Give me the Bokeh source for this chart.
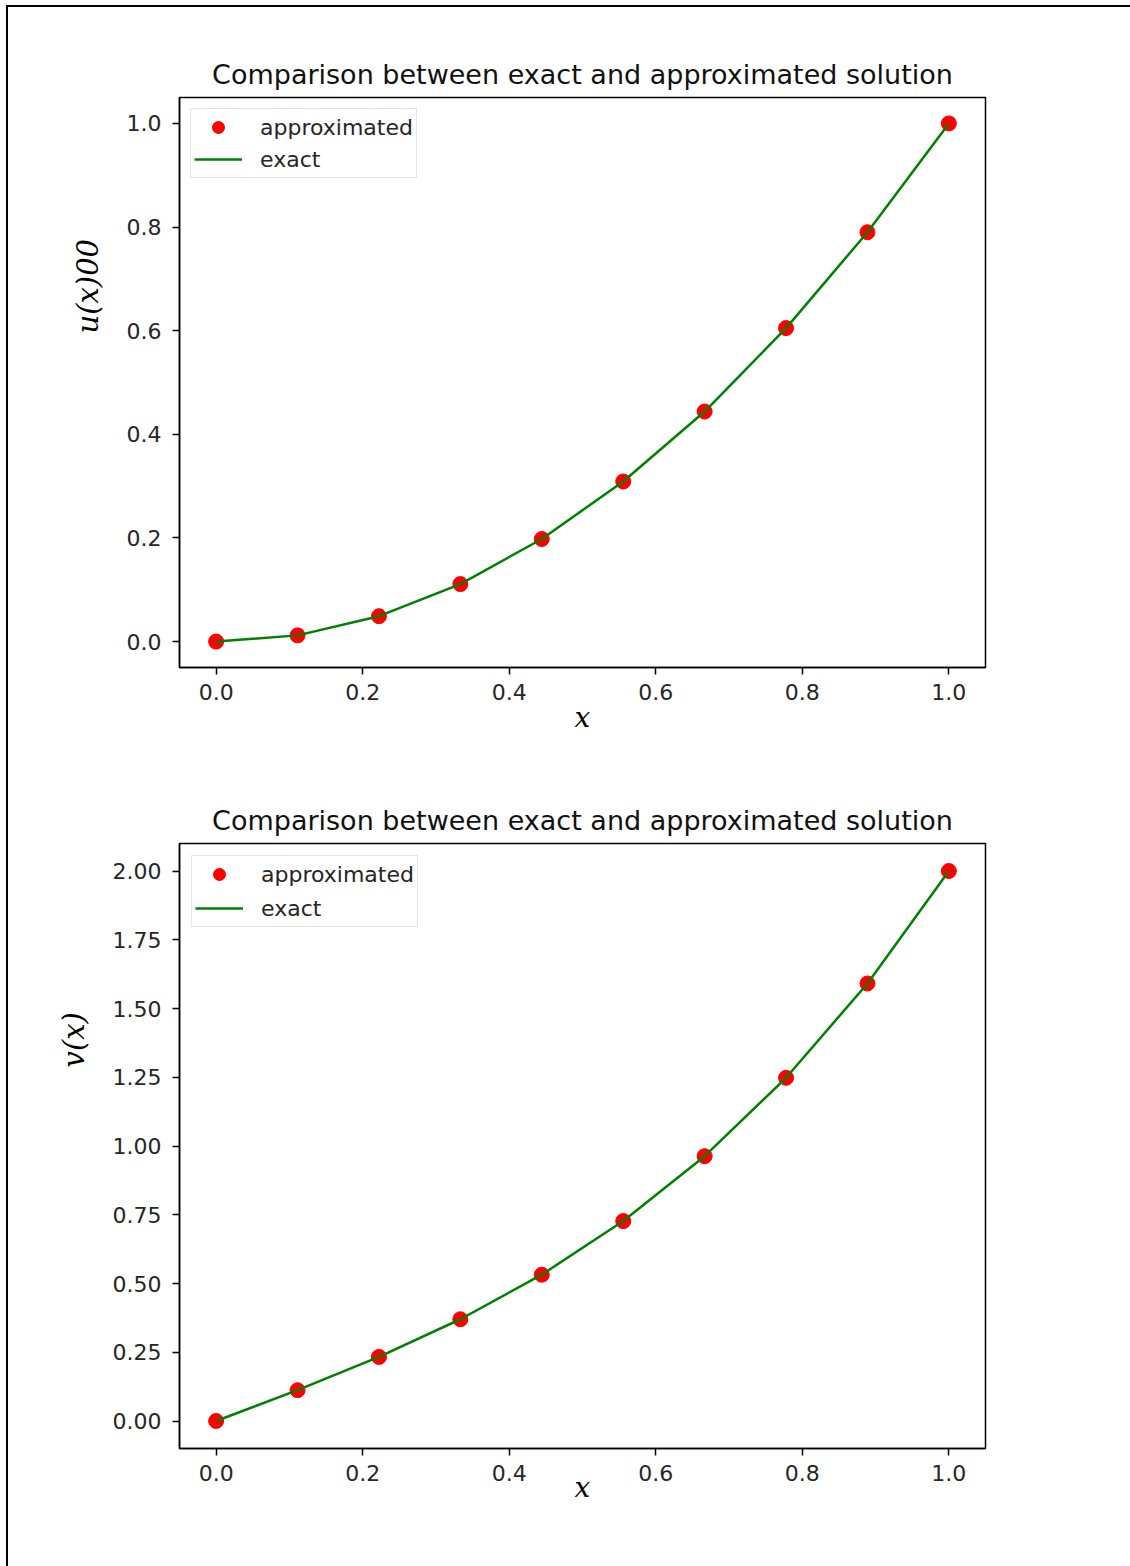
from bokeh.plotting import figure
from bokeh.layouts import column, row
from bokeh.models import FixedTicker, PrintfTickFormatter, Title, Range1d, Div
from bokeh.embed import file_html
from bokeh.resources import INLINE

# ---- data ----
x_vals = [0.0, 0.1111, 0.2222, 0.3333, 0.4444, 0.5556, 0.6667, 0.7778, 0.8889, 1.0]
u_approx = [0.0, 0.012, 0.049, 0.111, 0.198, 0.309, 0.444, 0.605, 0.790, 1.0]
u_exact = [0.0, 0.012, 0.049, 0.111, 0.198, 0.309, 0.444, 0.605, 0.790, 1.0]
v_approx = [0.0, 0.112, 0.233, 0.370, 0.532, 0.727, 0.963, 1.248, 1.591, 2.0]
v_exact = [0.0, 0.112, 0.233, 0.370, 0.532, 0.727, 0.963, 1.248, 1.591, 2.0]
x_ticks = [0.0, 0.2, 0.4, 0.6, 0.8, 1.0]
u_ticks = [0.0, 0.2, 0.4, 0.6, 0.8, 1.0]
v_ticks = [0.0, 0.25, 0.5, 0.75, 1.0, 1.25, 1.5, 1.75, 2.0]

TITLE = "Comparison between exact and approximated solution"
TXT = "#262626"


def make_plot(y_approx, y_exact, y_ticks, y_fmt, y_range, ylabel, ylabel_offset,
              height, mb_left, mb_right, mb_top, mb_bottom, xlabel_standoff,
              leg_spacing, leg_margin):
    p = figure(width=1120, height=height, x_range=Range1d(-0.05, 1.05),
               y_range=Range1d(*y_range), output_backend="svg", toolbar_location=None,
               min_border_left=mb_left, min_border_right=mb_right,
               min_border_top=mb_top, min_border_bottom=mb_bottom)
    p.title.text = TITLE
    p.title.align = "center"
    p.title.text_font = "DejaVu Sans"
    p.title.text_font_size = "27px"
    p.title.text_font_style = "normal"
    p.title.text_color = "#111111"
    p.title.standoff = 16

    p.scatter(x_vals, y_approx, size=15, color="#ff0000", legend_label="approximated")
    p.line(x_vals, y_exact, line_color="#008000", line_width=2.5, legend_label="exact")

    p.xgrid.visible = False
    p.ygrid.visible = False
    p.outline_line_color = "black"
    p.outline_line_width = 1.5
    p.outline_line_alpha = 1.0

    for ax in (p.xaxis[0], p.yaxis[0]):
        ax.major_tick_out = 7
        ax.major_tick_in = 0
        ax.minor_tick_out = 0
        ax.minor_tick_in = 0
        ax.major_tick_line_width = 1.5
        ax.axis_line_width = 1.5
        ax.axis_line_color = "black"
        ax.major_tick_line_color = "black"
        ax.major_label_text_font = "DejaVu Sans"
        ax.major_label_text_font_size = "22px"
        ax.major_label_text_color = TXT
    p.xaxis.major_label_standoff = 9
    p.yaxis.major_label_standoff = 11

    p.xaxis.ticker = FixedTicker(ticks=x_ticks)
    p.xaxis.formatter = PrintfTickFormatter(format="%.1f")
    p.yaxis.ticker = FixedTicker(ticks=y_ticks)
    p.yaxis.formatter = PrintfTickFormatter(format=y_fmt)

    p.xaxis.axis_label = "x"
    p.xaxis.axis_label_text_font = "DejaVu Serif"
    p.xaxis.axis_label_text_font_style = "italic"
    p.xaxis.axis_label_text_font_size = "28px"
    p.xaxis.axis_label_text_color = "black"
    p.xaxis.axis_label_standoff = xlabel_standoff

    p.add_layout(Title(text=ylabel, align="left", offset=ylabel_offset,
                       vertical_align="bottom", standoff=38,
                       text_font="DejaVu Serif", text_font_style="italic",
                       text_font_size="29px", text_color="black"), "left")

    lg = p.legend[0]
    lg.location = "top_left"
    lg.margin = leg_margin
    lg.padding = 3
    lg.spacing = leg_spacing
    lg.label_standoff = 18
    lg.glyph_width = 48
    lg.glyph_height = 30
    lg.label_height = 30
    lg.label_text_font = "DejaVu Sans"
    lg.label_text_font_size = "22px"
    lg.label_text_color = TXT
    lg.border_line_color = "#cccccc"
    lg.border_line_width = 1
    lg.background_fill_color = "white"
    lg.background_fill_alpha = 1.0
    return p


p1 = make_plot(u_approx, u_exact, u_ticks, "%.1f", (-0.05, 1.05), "u(x)00", 334,
               763, 169, 140, 90, 103, -2, 2, 11)
p2 = make_plot(v_approx, v_exact, v_ticks, "%.2f", (-0.1, 2.1), "v(x)", 381,
               796, 171, 143, 73, 118, -13, 4, 12)

top_line = Div(text="", width=1124, height=2, margin=(5, 0, 0, 6),
               styles={"background-color": "black"})
left_line = Div(text="", width=2, height=1559, margin=(0, 0, 0, 6),
                styles={"background-color": "black"})
layout = column(top_line, row(left_line, column(p1, p2)))

open("out.html", "w").write(file_html(layout, INLINE))
